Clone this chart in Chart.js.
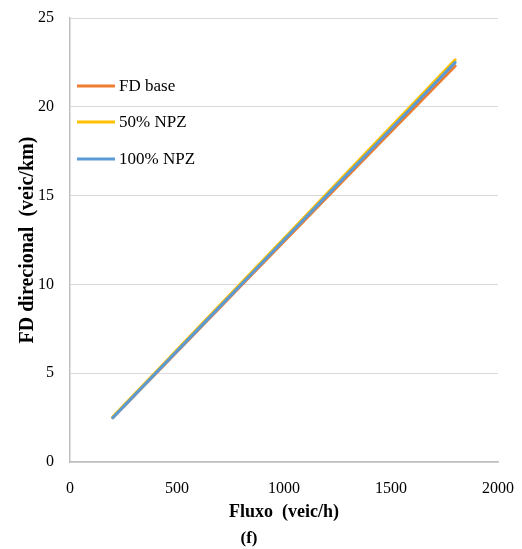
<!DOCTYPE html>
<html>
<head>
<meta charset="utf-8">
<script src="https://cdn.jsdelivr.net/npm/chart.js@4/dist/chart.umd.min.js"></script>
<style>
  html, body { margin: 0; padding: 0; background: #fff; }
  #wrap { width: 522px; height: 549px; }
</style>
</head>
<body>
<div id="wrap"><canvas id="fdChart" width="522" height="549"></canvas></div>
<script>
// flow (veic/h) and directional density per scenario
const flows = [200, 400, 600, 800, 1000, 1200, 1400, 1600, 1800];
const fdBase = [2.5, 4.98, 7.46, 9.94, 12.42, 14.9, 17.37, 19.84, 22.3];
const npz50 = [2.55, 5.06, 7.57, 10.08, 12.59, 15.1, 17.62, 20.13, 22.65];
const npz100 = [2.5, 5.0, 7.5, 10.0, 12.5, 15.0, 17.5, 20.0, 22.5];

const seriesNames = ["FD base", "50% NPZ", "100% NPZ"];
const colors = ["#ED7D31", "#FFC000", "#5B9BD5"];

const serif = "'Liberation Serif', 'Times New Roman', serif";
Chart.defaults.font.family = serif;
Chart.defaults.color = "#000";

// legend drawn inside the plot, top-left
const insideLegend = {
  id: "insideLegend",
  afterDraw(chart) {
    const ctx = chart.ctx;
    const rows = [86, 122, 159];
    ctx.save();
    ctx.font = "17px " + serif;
    ctx.textBaseline = "middle";
    chart.data.datasets.forEach((ds, i) => {
      ctx.strokeStyle = ds.borderColor;
      ctx.lineWidth = 3;
      ctx.beginPath();
      ctx.moveTo(77, rows[i]);
      ctx.lineTo(115, rows[i]);
      ctx.stroke();
      ctx.fillStyle = "#000";
      ctx.fillText(ds.label, 119, rows[i] + 1);
    });
    ctx.restore();
  }
};

const datasets = [fdBase, npz50, npz100].map((vals, i) => ({
  label: seriesNames[i],
  data: flows.map((f, j) => ({ x: f, y: vals[j] })),
  borderColor: colors[i],
  backgroundColor: colors[i],
  borderWidth: 3,
  pointRadius: 0,
  borderCapStyle: "round",
  tension: 0,
  order: 2 - i,
}));

const plainNumber = (v) => String(v);

new Chart(document.getElementById("fdChart").getContext("2d"), {
  type: "line",
  data: { datasets },
  options: {
    responsive: false,
    animation: false,
    layout: { autoPadding: false, padding: { top: 18, right: 24, left: 0, bottom: 0.5 } },
    plugins: {
      legend: { display: false },
      tooltip: { enabled: false },
      title: {
        display: true,
        position: "bottom",
        text: "(f)",
        font: { size: 17, weight: "bold" },
        color: "#000",
        padding: { top: 2, bottom: 0 },
      },
    },
    scales: {
      x: {
        type: "linear",
        min: 0,
        max: 2000,
        ticks: { stepSize: 500, padding: 17, font: { size: 16 }, maxRotation: 0, callback: plainNumber },
        grid: { display: false, drawTicks: false },
        border: { color: "#bfbfbf", width: 1.5 },
        title: {
          display: true,
          text: "Fluxo  (veic/h)",
          font: { size: 18, weight: "bold" },
          padding: { top: 0, bottom: 3 },
        },
        afterFit(scale) {
          scale.height = 64;
          scale.paddingLeft = 0;
          scale.paddingRight = 0;
        },
      },
      y: {
        min: 0,
        max: 25,
        ticks: { stepSize: 5, padding: 16, font: { size: 16 }, callback: plainNumber },
        grid: { color: "#d9d9d9", drawTicks: false },
        border: { color: "#bfbfbf", width: 1.5 },
        title: {
          display: true,
          text: "FD direcional  (veic/km)",
          font: { size: 20, weight: "bold" },
          padding: { top: 16, bottom: 0 },
        },
        afterFit(scale) {
          scale.width = 70;
          scale.paddingTop = 0;
          scale.paddingBottom = 0;
        },
      },
    },
  },
  plugins: [insideLegend],
});
</script>
</body>
</html>
